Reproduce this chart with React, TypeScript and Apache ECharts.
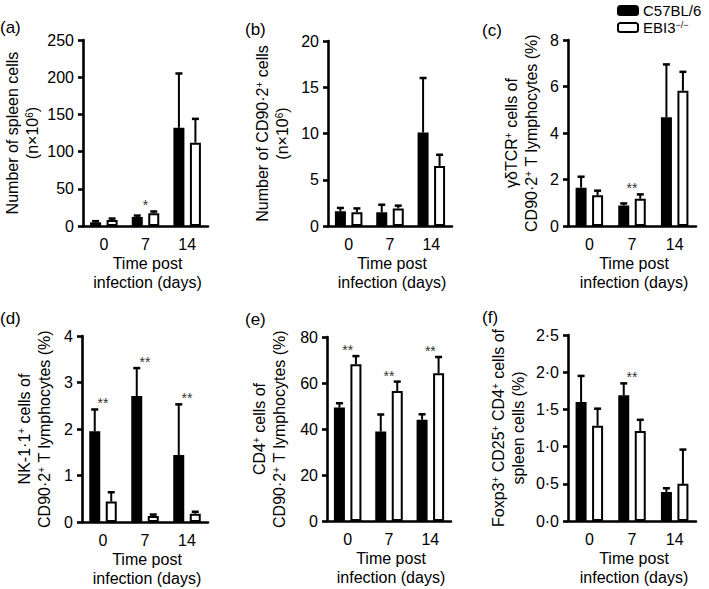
import React, { useEffect, useRef } from 'react';
import * as echarts from 'echarts';

// ---------- data ----------
const categories = ['0', '7', '14'];
const seriesNames = ['C57BL/6', 'EBI3−/−'];

// (a) Number of spleen cells (n×10^6)
const aBlack = [5, 12, 132];
const aBlackErr = [6.5, 14, 205];
const aWhite = [8, 17, 112];
const aWhiteErr = [10, 19.5, 144];
const aSig = ['', '*', ''];
const aTicks = { max: 250, interval: 50 };

// (b) Number of CD90·2+ cells (n×10^6)
const bBlack = [1.6, 1.5, 10.1];
const bBlackErr = [1.95, 2.3, 16];
const bWhite = [1.5, 1.9, 6.5];
const bWhiteErr = [1.9, 2.2, 7.7];
const bSig = ['', '', ''];
const bTicks = { max: 20, interval: 5 };

// (c) γδTCR+ cells of CD90·2+ T lymphocytes (%)
const cBlack = [1.65, 0.88, 4.68];
const cBlackErr = [2.12, 0.97, 6.95];
const cWhite = [1.32, 1.17, 5.82];
const cWhiteErr = [1.52, 1.36, 6.63];
const cSig = ['', '**', ''];
const cTicks = { max: 8, interval: 2 };

// (d) NK-1·1+ cells of CD90·2+ T lymphocytes (%)
const dBlack = [1.95, 2.71, 1.44];
const dBlackErr = [2.42, 3.31, 2.53];
const dWhite = [0.44, 0.13, 0.18];
const dWhiteErr = [0.64, 0.16, 0.22];
const dSig = ['**', '**', '**'];
const dTicks = { max: 4, interval: 1 };

// (e) CD4+ cells of CD90·2+ T lymphocytes (%)
const eBlack = [49.3, 38.9, 44];
const eBlackErr = [51.2, 46.3, 46.4];
const eWhite = [68.2, 56.5, 64.2];
const eWhiteErr = [71.7, 60.6, 71.3];
const eSig = ['**', '**', '**'];
const eTicks = { max: 80, interval: 20 };

// (f) Foxp3+ CD25+ CD4+ cells of spleen cells (%)
const fBlack = [1.6, 1.69, 0.39];
const fBlackErr = [1.95, 1.85, 0.44];
const fWhite = [1.28, 1.21, 0.5];
const fWhiteErr = [1.51, 1.36, 0.96];
const fSig = ['', '**', ''];
const fTicks = { max: 2.5, interval: 0.5 };

const panelLetters = ['(a)', '(b)', '(c)', '(d)', '(e)', '(f)'];
const yTitles = [
  '{t|Number of spleen cells}\n{t|(n×10}{s|6}{t|)}',
  '{t|Number of CD90·2}{s|+}{t| cells}\n{t|(n×10}{s|6}{t|)}',
  '{t|γδTCR}{s|+}{t| cells of}\n{t|CD90·2}{s|+}{t| T lymphocytes (%)}',
  '{t|NK-1·1}{s|+}{t| cells of}\n{t|CD90·2}{s|+}{t| T lymphocytes (%)}',
  '{t|CD4}{s|+}{t| cells of}\n{t|CD90·2}{s|+}{t| T lymphocytes (%)}',
  '{t|Foxp3}{s|+}{t| CD25}{s|+}{t| CD4}{s|+}{t| cells of}\n{t|spleen cells (%)}',
];
const xTitle = 'Time post\ninfection (days)';

const panels = [
  { black: aBlack, blackErr: aBlackErr, white: aWhite, whiteErr: aWhiteErr, sig: aSig, ticks: aTicks },
  { black: bBlack, blackErr: bBlackErr, white: bWhite, whiteErr: bWhiteErr, sig: bSig, ticks: bTicks },
  { black: cBlack, blackErr: cBlackErr, white: cWhite, whiteErr: cWhiteErr, sig: cSig, ticks: cTicks },
  { black: dBlack, blackErr: dBlackErr, white: dWhite, whiteErr: dWhiteErr, sig: dSig, ticks: dTicks },
  { black: eBlack, blackErr: eBlackErr, white: eWhite, whiteErr: eWhiteErr, sig: eSig, ticks: eTicks },
  { black: fBlack, blackErr: fBlackErr, white: fWhite, whiteErr: fWhiteErr, sig: fSig, ticks: fTicks },
];

// ---------- layout / style ----------
const FONT = 'Liberation Sans, Arial, Helvetica, sans-serif';
const grids = [
  { left: 83, top: 40, width: 125, height: 186 },
  { left: 328, top: 41, width: 124, height: 185 },
  { left: 568, top: 40, width: 128, height: 186 },
  { left: 82, top: 336, width: 126, height: 186 },
  { left: 327, top: 337, width: 124, height: 184 },
  { left: 568, top: 335, width: 128, height: 186 },
];
const letterPos = [
  [0, 19], [245, 21], [482, 22], [0, 310], [245, 311], [482, 309],
];
const yTitleX = [22, 272, 521, 34, 269, 508];
const legendTops = [3, 20];
const BAR_W = 11;
const OFFSET = 8.25;
const AXIS_W = 2.6;

function App() {
  const ref = useRef<HTMLDivElement>(null);
  useEffect(() => {
    if (!ref.current) return;
    const chart = echarts.init(ref.current, undefined, { renderer: 'svg' });

    const xAxis: any[] = [];
    const yAxis: any[] = [];
    const series: any[] = [];
    const graphic: any[] = [];

    panels.forEach((p, gi) => {
      const g = grids[gi];
      xAxis.push({
        type: 'category',
        gridIndex: gi,
        data: categories,
        axisLine: { lineStyle: { color: '#000', width: AXIS_W } },
        axisTick: { alignWithLabel: true, length: 5, lineStyle: { color: '#000', width: AXIS_W } },
        axisLabel: { color: '#000', fontSize: 16, fontFamily: FONT, margin: 10 },
        splitLine: { show: false },
      });
      yAxis.push({
        type: 'value',
        gridIndex: gi,
        min: 0,
        max: p.ticks.max,
        interval: p.ticks.interval,
        axisLine: { show: true, lineStyle: { color: '#000', width: AXIS_W } },
        axisTick: { show: true, length: 5, lineStyle: { color: '#000', width: AXIS_W } },
        axisLabel: {
          color: '#000',
          fontSize: 16,
          fontFamily: FONT,
          margin: 9,
          formatter: (v: number) => (gi === 5 ? v.toFixed(1).replace('.', '·') : String(v)),
        },
        splitLine: { show: false },
      });
      series.push({
        type: 'bar',
        name: seriesNames[0],
        xAxisIndex: gi,
        yAxisIndex: gi,
        data: p.black,
        barWidth: BAR_W,
        barGap: '50%',
        itemStyle: { color: '#000', borderColor: '#000', borderWidth: 2 },
        z: 2,
      });
      series.push({
        type: 'bar',
        name: seriesNames[1],
        xAxisIndex: gi,
        yAxisIndex: gi,
        data: p.white,
        barWidth: BAR_W,
        barGap: '50%',
        itemStyle: { color: '#fff', borderColor: '#000', borderWidth: 2 },
        z: 2,
      });
      const errSeries = (vals: number[], errs: number[], off: number) => ({
        type: 'custom',
        xAxisIndex: gi,
        yAxisIndex: gi,
        z: 3,
        silent: true,
        data: categories.map((_, i) => [i, vals[i], errs[i]]),
        renderItem: (_params: any, api: any) => {
          const base = api.coord([api.value(0), api.value(1)]);
          const top = api.coord([api.value(0), api.value(2)]);
          const cx = base[0] + off;
          return {
            type: 'group',
            children: [
              { type: 'line', shape: { x1: cx, y1: base[1], x2: cx, y2: top[1] }, style: { stroke: '#000', lineWidth: 2 } },
              { type: 'line', shape: { x1: cx - 3.5, y1: top[1], x2: cx + 3.5, y2: top[1] }, style: { stroke: '#000', lineWidth: 2.5 } },
            ],
          };
        },
      });
      series.push(errSeries(p.black, p.blackErr, -OFFSET));
      series.push(errSeries(p.white, p.whiteErr, OFFSET));
      const sigItems = categories
        .map((_, i) => ({ i, top: Math.max(p.blackErr[i], p.whiteErr[i]), label: p.sig[i] }))
        .filter((d) => d.label !== '');
      series.push({
        type: 'custom',
        xAxisIndex: gi,
        yAxisIndex: gi,
        z: 4,
        silent: true,
        data: sigItems.map((d) => [d.i, d.top]),
        renderItem: (params: any, api: any) => {
          const pt = api.coord([api.value(0), api.value(1)]);
          const d = sigItems[params.dataIndex];
          return {
            type: 'text',
            style: {
              text: d.label,
              x: pt[0],
              y: pt[1] - 6,
              fill: '#333',
              fontSize: 14,
              fontFamily: FONT,
              align: 'center',
              verticalAlign: 'middle',
            },
          };
        },
      });

      // panel letter
      graphic.push({
        type: 'text',
        left: letterPos[gi][0],
        top: letterPos[gi][1],
        style: { text: panelLetters[gi], fontSize: 17, fontFamily: FONT, fill: '#000' },
      });
      // y title
      graphic.push({
        type: 'text',
        x: yTitleX[gi],
        y: g.top + g.height / 2,
        rotation: Math.PI / 2,
        style: {
          text: yTitles[gi],
          align: 'center',
          verticalAlign: 'middle',
          fill: '#000',
          rich: {
            t: { fontSize: 16, fontFamily: FONT, lineHeight: 20, fill: '#000' },
            s: { fontSize: 10, fontFamily: FONT, lineHeight: 20, verticalAlign: 'top', fill: '#000', padding: [2, 0, 0, 0] },
          },
        },
      });
      // x title
      graphic.push({
        type: 'text',
        x: g.left + g.width / 2 + 2,
        y: g.top + g.height + 28,
        style: {
          text: xTitle,
          align: 'center',
          verticalAlign: 'top',
          fontSize: 16,
          lineHeight: 19,
          fontFamily: FONT,
          fill: '#000',
        },
      });
    });

    const legendBase = {
      orient: 'vertical',
      left: 617,
      itemWidth: 20,
      itemHeight: 9,
      itemGap: 0,
      icon: 'roundRect',
      selectedMode: false,
      padding: 0,
      textStyle: {
        fontSize: 15,
        fontFamily: FONT,
        color: '#000',
        lineHeight: 15,
        rich: {
          n: { fontSize: 15, fontFamily: FONT, lineHeight: 15, color: '#000' },
          s: { fontSize: 9, fontFamily: FONT, lineHeight: 15, verticalAlign: 'top', color: '#000' },
        },
      },
      formatter: (name: string) => (name === seriesNames[1] ? '{n|EBI3}{s|−/−}' : '{n|' + name + '}'),
    };

    chart.setOption({
      animation: false,
      backgroundColor: '#fff',
      grid: grids.map((g) => ({ ...g, containLabel: false })),
      xAxis,
      yAxis,
      series,
      graphic,
      legend: seriesNames.map((n, i) => ({ ...legendBase, data: [n], top: legendTops[i] })),
    });
    return () => chart.dispose();
  }, []);
  return (
    <div
      ref={ref}
      style={{ position: 'absolute', left: 0, top: 0, width: 709, height: 589, background: '#fff' }}
    />
  );
}

export default App;
